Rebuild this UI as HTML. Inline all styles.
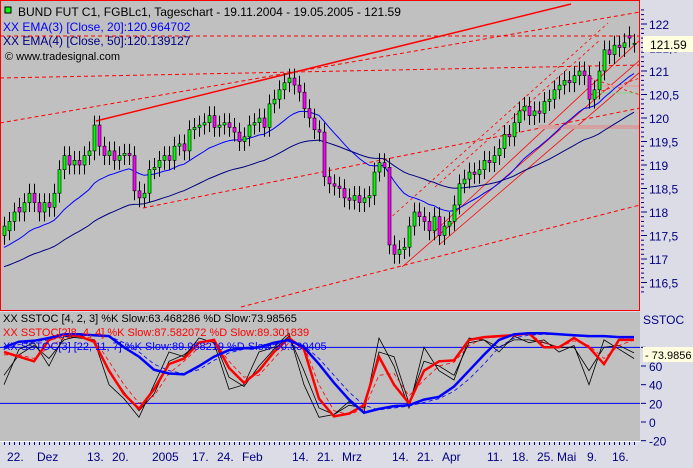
<!DOCTYPE html>
<html><head><meta charset="utf-8"><style>
html,body{margin:0;padding:0;background:#dcdce6;}
svg{display:block;font-family:"Liberation Sans",sans-serif;}
</style></head><body>
<svg id="c" width="693" height="468" viewBox="0 0 693 468">
<rect x="0" y="0" width="693" height="468" fill="#dcdce6"/>
<rect x="0.5" y="0.5" width="639" height="310" fill="#c0c0c0" stroke="#ff0000" stroke-width="1"/>
<rect x="0" y="312" width="640" height="129" fill="#c0c0c0"/>
<g id="lines"></g>
<g id="candles"></g>
<g id="stoch"></g>
<g id="axes"></g>
<text x="18" y="16" font-size="12" fill="#000">BUND FUT C1, FGBLc1, Tageschart - 19.11.2004 - 19.05.2005 - 121.59</text>
<rect x="5" y="7" width="6" height="6" fill="#00ff00" stroke="#000" stroke-width="1"/>
<text x="3" y="31" font-size="12" fill="#0000ff">XX EMA(3) [Close, 20]:120.964702</text>
<text x="3" y="45" font-size="12" fill="#000080">XX EMA(4) [Close, 50]:120.139127</text>
<text x="5" y="60" font-size="11" fill="#000">© www.tradesignal.com</text>
<text x="3" y="322" font-size="11" fill="#000">XX SSTOC [4, 2, 3] %K Slow:63.468286 %D Slow:73.98565</text>
<text x="3" y="336" font-size="11" fill="#ff0000">XX SSTOC[2]8, 4, 4] %K Slow:87.582072 %D Slow:89.301839</text>
<text x="3" y="350" font-size="11" fill="#0000ff">XX SSTOC[3] [22, 11, 7] %K Slow:89.968219 %D Slow:90.530405</text>
</svg>
<script>
const closes=[117.7,117.8,118.0,118.0,118.2,118.4,118.2,118.0,118.2,118.1,118.4,118.9,119.2,119.0,119.1,119.0,119.2,119.3,119.85,119.4,119.2,119.3,119.1,119.2,119.25,119.2,118.45,118.3,118.4,118.9,118.95,119.1,119.2,119.1,119.4,119.45,119.3,119.75,119.8,119.85,119.9,120.05,119.8,119.85,119.9,119.8,119.7,119.5,119.6,119.85,119.9,120.0,119.8,120.3,120.4,120.6,120.75,120.85,120.7,120.55,120.2,120.0,119.75,119.7,118.75,118.6,118.55,118.5,118.3,118.25,118.35,118.2,118.3,118.35,118.85,119.05,118.95,117.3,117.1,117.2,117.25,117.7,118.0,117.9,117.8,117.6,117.9,117.5,117.7,117.8,118.15,118.6,118.7,118.85,118.8,118.9,119.1,119.05,119.2,119.35,119.65,119.6,119.9,120.15,120.25,120.05,120.15,120.1,120.35,120.4,120.6,120.7,120.8,120.75,120.9,121.0,120.9,120.4,120.6,121.0,121.45,121.35,121.55,121.5,121.6,121.7,121.59];
const opens=[117.5,117.6,117.8,118.1,118.0,118.2,118.4,118.2,118.0,118.2,118.1,118.4,118.9,119.2,119.0,119.1,119.0,119.2,119.3,119.85,119.4,119.2,119.3,119.1,119.2,119.25,119.2,118.45,118.3,118.4,118.9,118.95,119.1,119.2,119.1,119.4,119.45,119.3,119.75,119.8,119.85,119.9,120.05,119.8,119.85,119.9,119.8,119.7,119.5,119.6,119.85,119.9,120.0,119.8,120.3,120.4,120.6,120.75,120.85,120.7,120.55,120.2,120.0,119.75,119.7,118.75,118.6,118.55,118.5,118.3,118.25,118.35,118.2,118.3,118.35,118.85,119.05,118.95,117.3,117.1,117.2,117.25,117.7,118.0,117.9,117.8,117.6,117.9,117.5,117.7,117.8,118.15,118.6,118.7,118.85,118.8,118.9,119.1,119.05,119.2,119.35,119.65,119.6,119.9,120.15,120.25,120.05,120.15,120.1,120.35,120.4,120.6,120.7,120.8,120.75,120.9,121.0,120.9,120.4,120.6,121.0,121.45,121.35,121.55,121.5,121.75];
const priceTicks=[122,121.5,121,120.5,120,119.5,119,118.5,118,117.5,117,116.5];
const priceTickLabels=["122","121,5","121","120,5","120","119,5","119","118,5","118","117,5","117","116,5"];
const stochTicks=[80,60,40,20,0,-20];
const dateLabels=["22.","Dez","13.","20.","2005","17.","24.","Feb","14.","21.","Mrz","14.","21.","Apr","11.","18.","25.","Mai","9.","16."];
const dateIdx=[1,7,17,22,30,38,43,48,58,63,68,78,83,88,97,102,107,111,117,122];
const redK=[75,70,65,88,94,92,86,55,30,14,35,62,68,85,88,58,42,55,75,90,78,25,6,9,18,70,40,20,55,65,66,88,91,92,93,95,80,80,90,80,62,88,88];
const redD=[72,72,68,80,90,93,89,65,40,20,28,52,65,80,87,65,48,50,68,85,82,40,12,8,14,50,52,28,45,60,64,82,90,91,93,94,85,80,87,82,68,82,88];
const blueK=[80,86,87,90,94,94,93,92,80,70,56,52,51,60,70,77,79,80,85,88,80,62,42,24,10,14,17,18,24,27,38,55,72,88,94,95,95,94,93,92,92,91,91];
const blueD=[78,83,86,88,91,93,93,92,85,75,62,55,52,56,66,74,78,79,83,86,82,68,50,32,18,13,15,17,21,25,33,46,62,80,90,93,94,94,93,92,92,91,91];
const blackK=[40,78,85,60,92,90,88,40,25,5,40,75,70,90,85,35,40,75,80,95,40,5,8,22,10,90,60,15,80,55,45,90,88,75,92,85,88,75,82,40,88,78,68];
const blackD=[50,72,82,68,88,92,86,55,32,12,30,65,72,85,88,48,38,60,78,92,55,15,8,18,15,75,70,20,65,60,50,85,88,80,88,88,85,80,80,55,80,82,74];
const stochStep=3;

const NS="http://www.w3.org/2000/svg";
function mk(tag,attrs,parent){const e=document.createElementNS(NS,tag);for(const k in attrs)e.setAttribute(k,attrs[k]);parent.appendChild(e);return e;}
const X=i=>4+i*5;
const PY=p=>24+(122-p)*47;
const SY=v=>422-v*0.9333;

const L=document.getElementById('lines');
const tl=[[96,121,571,4,"",1.5],[0,123,640,12,"4,3",1],[0,78,640,65,"4,3",1],[0,36,640,36,"4,3",1],[143,208,640,108,"4,3",1],[241,307,640,205,"4,3",1],[388,220,608,23,"3,3",0.8],[435,187,600,40,"3,3",0.8],[402,267,640,60,"",0.8],[439,245,640,72,"",0.8],[433,233,640,40,"",0.8],[590,78,640,95,"3,3",0.8],[590,95,640,78,"3,3",0.8]];
tl.forEach(t=>{const l=mk('line',{x1:t[0],y1:t[1],x2:t[2],y2:t[3],stroke:'#ff0000','stroke-width':t[5],'stroke-dasharray':t[4]},L);

});
let b=mk('rect',{x:538,y:125,width:101,height:4,fill:'#d4a0a0'},L);


b=mk('rect',{x:586,y:85,width:53,height:2,fill:'#d8a8a8'},L);


b=mk('line',{x1:590,y1:93,x2:639,y2:93,stroke:'#90d090','stroke-width':1},L);



function ema(arr,n,seed){const a=2/(n+1);let e=seed;return arr.map(c=>e=e+a*(c-e));}
const e20=ema(closes,20,117.2),e50=ema(closes,50,116.8);
[[e20,'#0000ff','ema20-line'],[e50,'#000080','ema50-line']].forEach(s=>{
 const p=mk('polyline',{points:s[0].map((v,i)=>X(i)+','+PY(v).toFixed(1)).join(' '),fill:'none',stroke:s[1],'stroke-width':1},L);
 
 });

const C=document.getElementById('candles');
closes.forEach((c,i)=>{const o=opens[i]!==undefined?opens[i]:c;const hi=Math.max(o,c),lo=Math.min(o,c);
 const g=mk('g',{},C);
 
 
 mk('line',{x1:X(i)+0.5,x2:X(i)+0.5,y1:PY(hi+0.2),y2:PY(lo-0.2),stroke:'#000','stroke-width':1},g);
 const h=Math.max(1,PY(lo)-PY(hi));
 mk('rect',{x:X(i)-1,y:PY(hi),width:3,height:h,fill:c>=o?'#00ff00':'#ff00ff',stroke:'#000','stroke-width':0.6},g);});

const S=document.getElementById('stoch');
[[80,'level-80'],[20,'level-20']].forEach(l=>{const e=mk('line',{x1:0,x2:640,y1:SY(l[0]),y2:SY(l[0]),stroke:'#0000ff','stroke-width':1},S);
 
 });
const ser=[[blackD,'#000',0.8,'','black-d-line'],[blackK,'#000',0.8,'','black-k-line'],[redD,'#ff0000',0.8,'4,3','red-d-line'],[blueD,'#0000ff',0.8,'4,3','blue-d-line'],[redK,'#ff0000',2.5,'','red-k-line'],[blueK,'#0000ff',2.5,'','blue-k-line']];
ser.forEach(s=>{const p=mk('polyline',{points:s[0].map((v,i)=>X(i*stochStep)+','+SY(v).toFixed(1)).join(' '),fill:'none',stroke:s[1],'stroke-width':s[2],'stroke-dasharray':s[3]},S);
 
 });

const A=document.getElementById('axes');
for(let p=116.3;p<=122.3;p+=0.1){mk('line',{x1:641,x2:644,y1:PY(p),y2:PY(p),stroke:'#000080','stroke-width':1},A);}
priceTicks.forEach((p,k)=>{mk('line',{x1:641,x2:647,y1:PY(p),y2:PY(p),stroke:'#000080'},A);
 const t=mk('text',{x:649,y:PY(p)+5,'font-size':12,fill:'#000080'},A);t.textContent=priceTickLabels[k];
 
 });
let m=mk('rect',{x:643,y:36,width:50,height:16,fill:'#ffffe0'},A);


let t=mk('text',{x:650,y:49,'font-size':12,fill:'#000'},A);t.textContent='121.59';


t=mk('text',{x:643,y:324,'font-size':12,fill:'#000080'},A);t.textContent='SSTOC';


stochTicks.forEach(v=>{mk('line',{x1:641,x2:646,y1:SY(v),y2:SY(v),stroke:'#000080'},A);
 if(v===80)return;
 const e=mk('text',{x:649,y:SY(v)+5,'font-size':12,fill:'#000080'},A);e.textContent=String(v);
 
 });
m=mk('rect',{x:643,y:347,width:50,height:15,fill:'#ffffe0'},A);


t=mk('text',{x:645,y:359,'font-size':11,fill:'#000'},A);t.textContent='- 73.9856';


mk('line',{x1:0,x2:640,y1:441.5,y2:441.5,stroke:'#fff'},A);
for(let i=0;i<closes.length;i++)mk('line',{x1:X(i)+0.5,x2:X(i)+0.5,y1:442,y2:445,stroke:'#000080'},A);
dateLabels.forEach((d,k)=>{const e=mk('text',{x:X(dateIdx[k])-2,y:461,'font-size':12,fill:'#000080'},A);e.textContent=d;
 
 });
</script>
</body></html>
